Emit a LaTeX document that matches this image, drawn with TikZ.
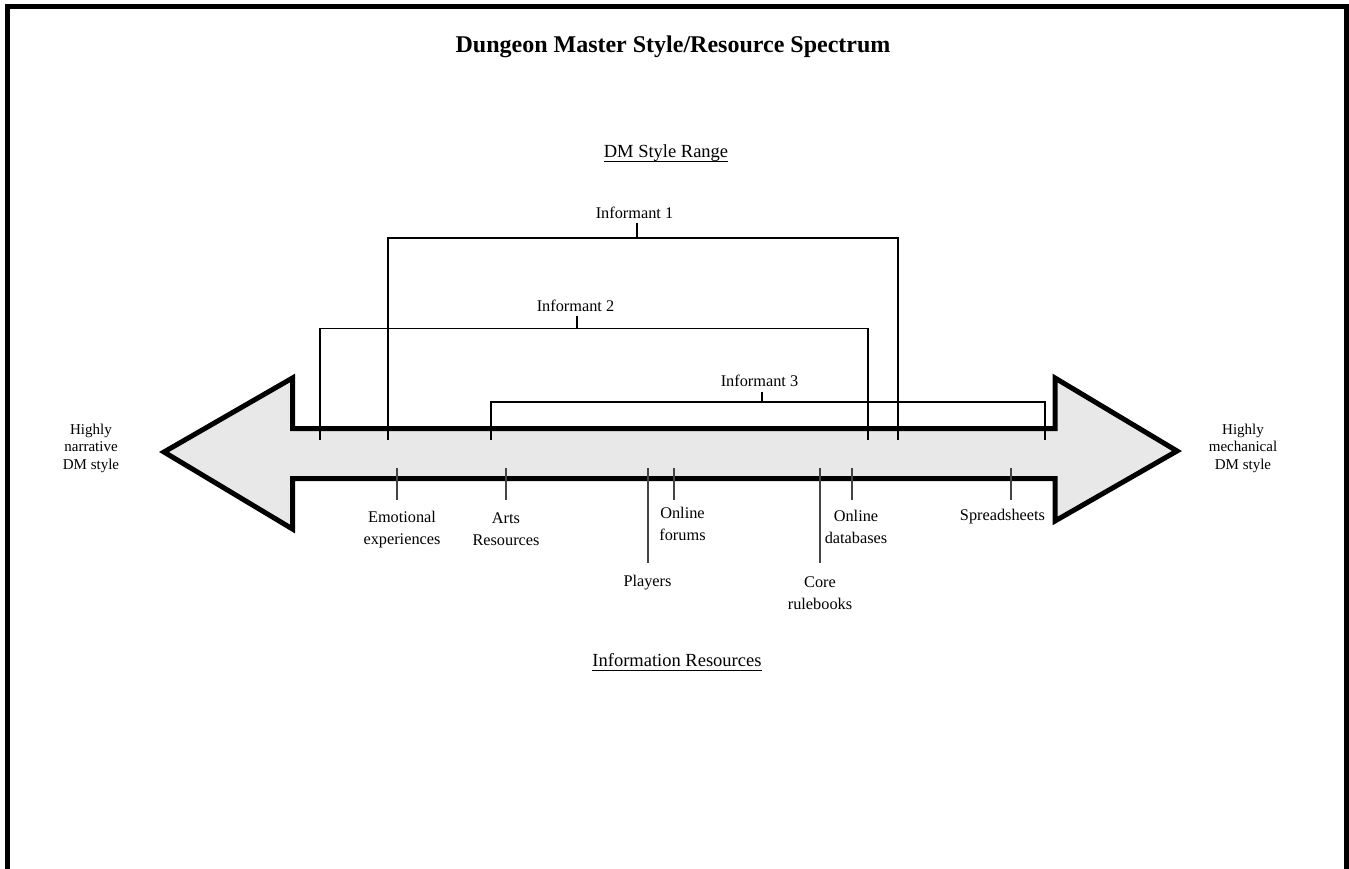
\documentclass[tikz,border=0pt]{standalone}
\usepackage{fontspec}
\setmainfont{Liberation Serif}
\definecolor{arrowgray}{HTML}{E8E8E8}
\definecolor{tickgray}{HTML}{444444}
\begin{document}
\begin{tikzpicture}[x=1pt,y=-1pt,
  lbl/.style={font=\fontsize{16.3}{22}\selectfont, align=center, inner sep=0pt},
  side/.style={font=\fontsize{15}{17.5}\selectfont, align=center, inner sep=0pt},
  heading/.style={font=\fontsize{18.5}{22}\selectfont, inner sep=0pt},
  bracket/.style={line width=1.1pt, draw=black},
  tickline/.style={line width=1.3pt, draw=tickgray},
  spectrum/.style={line width=5pt, line join=miter, draw=black, fill=arrowgray},
  underl/.style={line width=1.1pt, draw=black},
]
\useasboundingbox (0,0) rectangle (1349,869);

% page frame, open at the bottom
\draw[line width=5pt, line join=miter] (7.5,869) -- (7.5,6.5) -- (1346.5,6.5) -- (1346.5,869);

% title and headings
\node[inner sep=0pt, font=\fontsize{24}{28}\selectfont\bfseries] (title) at (673,46.5) {Dungeon Master Style/Resource Spectrum};
\node[heading] (dmr) at (666,153) {DM Style Range};
\draw[underl] ([yshift=-4pt]dmr.base west) -- ([yshift=-4pt]dmr.base east);
\node[heading] (infres) at (677,660) {Information Resources};
\draw[underl] ([yshift=-4pt]infres.base west) -- ([yshift=-4pt]infres.base east);

% the double-headed spectrum arrow
\draw[spectrum] (164,452) -- (292.5,378) -- (292.5,428.5) -- (1055,428.5) -- (1055,378)
  -- (1177,451) -- (1055,521) -- (1055,478.5) -- (292.5,478.5) -- (292.5,529) -- cycle;

% end labels
\node[side] (narr) at (91,448) {\strut Highly\\\strut narrative\\\strut DM style};
\node[side] (mech) at (1243,448) {\strut Highly\\\strut mechanical\\\strut DM style};

% informant ranges
\node[lbl] (inf1) at (634.5,214) {\strut Informant 1};
\node[lbl] (inf2) at (575.5,307) {\strut Informant 2};
\node[lbl] (inf3) at (759.5,382.5) {\strut Informant 3};

\coordinate (i1m) at (637,238);
\coordinate (i1l) at (388,440);
\coordinate (i1r) at (898,440);
\coordinate (i2m) at (577,328.5);
\coordinate (i2l) at (320,440);
\coordinate (i2r) at (868,440);
\coordinate (i3m) at (762,402);
\coordinate (i3l) at (491,440);
\coordinate (i3r) at (1045,440);

\draw[bracket] ([yshift=2pt]i1m |- inf1.south) -- (i1m);
\draw[bracket] (i1l) |- (i1m) -| (i1r);
\draw[bracket] ([yshift=2pt]i2m |- inf2.south) -- (i2m);
\draw[bracket] (i2l) |- (i2m) -| (i2r);
\draw[bracket] ([yshift=2pt]i3m |- inf3.south) -- (i3m);
\draw[bracket] (i3l) |- (i3m) -| (i3r);

% information resources
\node[lbl] (emo) at (402,529.5) {\strut Emotional\\\strut experiences};
\node[lbl] (arts) at (506,530) {\strut Arts\\\strut Resources};
\node[lbl] (forums) at (682.5,525) {\strut Online\\\strut forums};
\node[lbl] (players) at (647.5,582.5) {\strut Players};
\node[lbl] (core) at (820,594.5) {\strut Core\\\strut rulebooks};
\node[lbl] (dbs) at (856,528) {\strut Online\\\strut databases};
\node[lbl] (sheets) at (1002.5,516.5) {\strut Spreadsheets};

\coordinate (emo-a) at (397,468);   \coordinate (emo-b) at (397,500);
\coordinate (arts-a) at (506,468);  \coordinate (arts-b) at (506,500);
\coordinate (for-a) at (674,468);   \coordinate (for-b) at (674,500);
\coordinate (pl-a) at (648,468);    \coordinate (pl-b) at (648,563);
\coordinate (core-a) at (820,468);  \coordinate (core-b) at (820,563);
\coordinate (db-a) at (852,468);    \coordinate (db-b) at (852,500);
\coordinate (sh-a) at (1011,468);   \coordinate (sh-b) at (1011,500);

\foreach \t in {emo,arts,for,pl,core,db,sh}
  \draw[tickline] (\t-a) -- (\t-b);
\end{tikzpicture}
\end{document}
